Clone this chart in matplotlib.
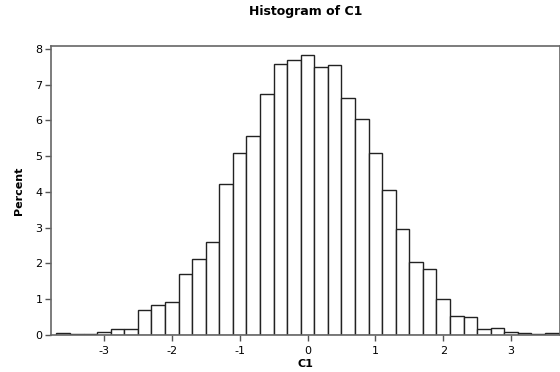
import matplotlib.pyplot as plt

bin_centers = [-3.6, -3.4, -3.2, -3.0, -2.8, -2.6, -2.4, -2.2, -2.0, -1.8,
               -1.6, -1.4, -1.2, -1.0, -0.8, -0.6, -0.4, -0.2, 0.0, 0.2,
               0.4, 0.6, 0.8, 1.0, 1.2, 1.4, 1.6, 1.8, 2.0, 2.2,
               2.4, 2.6, 2.8, 3.0, 3.2, 3.4, 3.6]
percent = [0.05, 0.02, 0.04, 0.09, 0.18, 0.18, 0.71, 0.85, 0.93, 1.71,
           2.12, 2.59, 4.22, 5.09, 5.55, 6.74, 7.58, 7.69, 7.84, 7.48,
           7.54, 6.63, 6.04, 5.08, 4.06, 2.95, 2.05, 1.85, 1.00, 0.53,
           0.50, 0.16, 0.20, 0.09, 0.05, 0.02, 0.06]
bin_width = 0.2
x_ticks = [-3, -2, -1, 0, 1, 2, 3]
y_ticks = [0, 1, 2, 3, 4, 5, 6, 7, 8]

plt.rcParams['font.family'] = ['DejaVu Sans']
plt.rcParams['axes.unicode_minus'] = False

fig = plt.figure(figsize=(5.6, 3.72), dpi=100)
ax = fig.add_axes([0.091, 0.0995, 0.909, 0.777])

ax.bar(bin_centers, percent, width=bin_width, color='white',
       edgecolor='#222222', linewidth=1.0)

ax.set_xlim(-3.78, 3.72)
ax.set_ylim(0, 8.08)
ax.set_xticks(x_ticks)
ax.set_yticks(y_ticks)
ax.tick_params(axis='both', direction='out', length=4, width=1,
               color='#555555', labelsize=8, pad=2)
ax.tick_params(axis='x', pad=4)

for side in ['left', 'top', 'right', 'bottom']:
    ax.spines[side].set_color('#666666')
    ax.spines[side].set_linewidth(1.2)

ax.set_title('Histogram of C1', fontsize=9, fontweight='bold', pad=22)
ax.set_xlabel('C1', fontsize=8, fontweight='bold', labelpad=2)
ax.set_ylabel('Percent', fontsize=8, fontweight='bold', labelpad=8)

plt.savefig('out.png', dpi=100)
